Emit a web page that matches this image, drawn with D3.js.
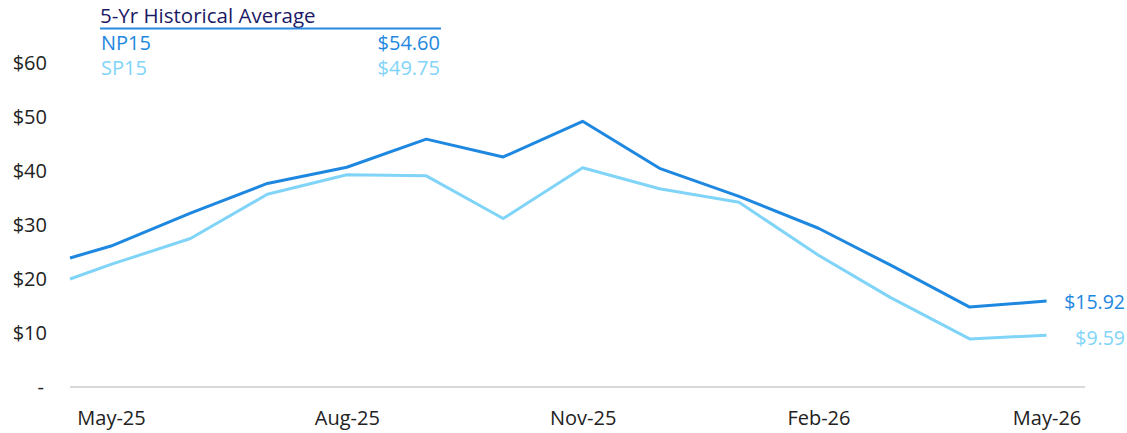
<!DOCTYPE html>
<html><head><meta charset="utf-8">
<script src="https://cdn.jsdelivr.net/npm/d3@7"></script>
<style>
html,body{margin:0;padding:0;background:#fff;}
svg{display:block;font-family:"Open Sans","Noto Sans",sans-serif;}
</style></head>
<body><svg id="chart" width="1127" height="433"></svg>
<script>
const dates = ["2025-04-15","2025-05-01","2025-06-01","2025-07-01","2025-08-01","2025-09-01","2025-10-01","2025-11-01","2025-12-01","2026-01-01","2026-02-01","2026-03-01","2026-04-01","2026-05-01"];
const np15 = [23.9,26.1,32.2,37.7,40.7,45.9,42.6,49.2,40.5,35.3,29.4,22.6,14.8,15.92];
const sp15 = [20.0,22.7,27.5,35.7,39.3,39.1,31.2,40.6,36.7,34.2,24.4,16.6,8.9,9.59];
const yTicks = [0,10,20,30,40,50,60];
const xTickDates = ["2025-05-01","2025-08-01","2025-11-01","2026-02-01","2026-05-01"];
const legendRows = [{name:"NP15", avg:"$54.60"},{name:"SP15", avg:"$49.75"}];
const legendTitle = "5-Yr Historical Average";

const colors = {NP15:"#1e88e0", SP15:"#80d4f8"};
const parse = d3.timeParse("%Y-%m-%d");
const svg = d3.select("#chart");
const FONT = "'Open Sans','Noto Sans',sans-serif";

const x = d3.scaleTime()
  .domain([parse("2025-04-15"), parse("2026-05-16")])
  .range([70, 1085]);
const y = d3.scaleLinear().domain([0,60]).range([387,63]);

// baseline
svg.append("line").attr("x1",70).attr("x2",1085).attr("y1",y(0)).attr("y2",y(0))
  .attr("stroke","#d9d9d9").attr("stroke-width",2);

// y axis labels
const yAxis = d3.axisLeft(y).tickValues(yTicks).tickSize(0).tickPadding(0)
  .tickFormat(d => d===0 ? "-" : "$"+d);
const gy = svg.append("g").attr("transform","translate(47,0)").call(yAxis);
gy.select(".domain").remove();
gy.selectAll("text").attr("font-size",20).attr("fill","#222").attr("font-family",FONT);
gy.selectAll(".tick").filter(d=>d===0).select("text").attr("dx",-3);

// x axis labels
const xAxis = d3.axisBottom(x).tickValues(xTickDates.map(parse)).tickSize(0).tickPadding(0)
  .tickFormat(d3.timeFormat("%b-%y"));
const gx = svg.append("g").attr("transform","translate(0,411)").call(xAxis);
gx.select(".domain").remove();
gx.selectAll("text").attr("font-size",20).attr("fill","#222").attr("font-family",FONT);

// lines
const line = d3.line().x((d,i)=>x(parse(dates[i]))).y(d=>y(d));
svg.append("path").datum(sp15).attr("d",line).attr("fill","none")
  .attr("stroke",colors.SP15).attr("stroke-width",3).attr("stroke-linejoin","round");
svg.append("path").datum(np15).attr("d",line).attr("fill","none")
  .attr("stroke",colors.NP15).attr("stroke-width",3).attr("stroke-linejoin","round");

// end labels
const last = dates.length-1;
svg.append("text").attr("x",1125).attr("y",y(np15[last])+1).attr("dy","0.35em")
  .attr("text-anchor","end").attr("font-size",19.5).attr("fill",colors.NP15)
  .text("$"+np15[last].toFixed(2));
svg.append("text").attr("x",1125).attr("y",y(sp15[last])+3).attr("dy","0.35em")
  .attr("text-anchor","end").attr("font-size",19.5).attr("fill",colors.SP15)
  .text("$"+sp15[last].toFixed(2));

// legend
svg.append("text").attr("x",100).attr("y",23).attr("font-size",20.5).attr("fill","#1c1a66").text(legendTitle);
svg.append("line").attr("x1",100).attr("x2",441).attr("y1",28.5).attr("y2",28.5)
  .attr("stroke","#2a8ae0").attr("stroke-width",2);
legendRows.forEach((r,i)=>{
  const yy = 50 + i*25;
  svg.append("text").attr("x",101).attr("y",yy).attr("font-size",20).attr("fill",colors[r.name]).text(r.name);
  svg.append("text").attr("x",440).attr("y",yy).attr("text-anchor","end").attr("font-size",20).attr("fill",colors[r.name]).text(r.avg);
});
</script></body></html>
